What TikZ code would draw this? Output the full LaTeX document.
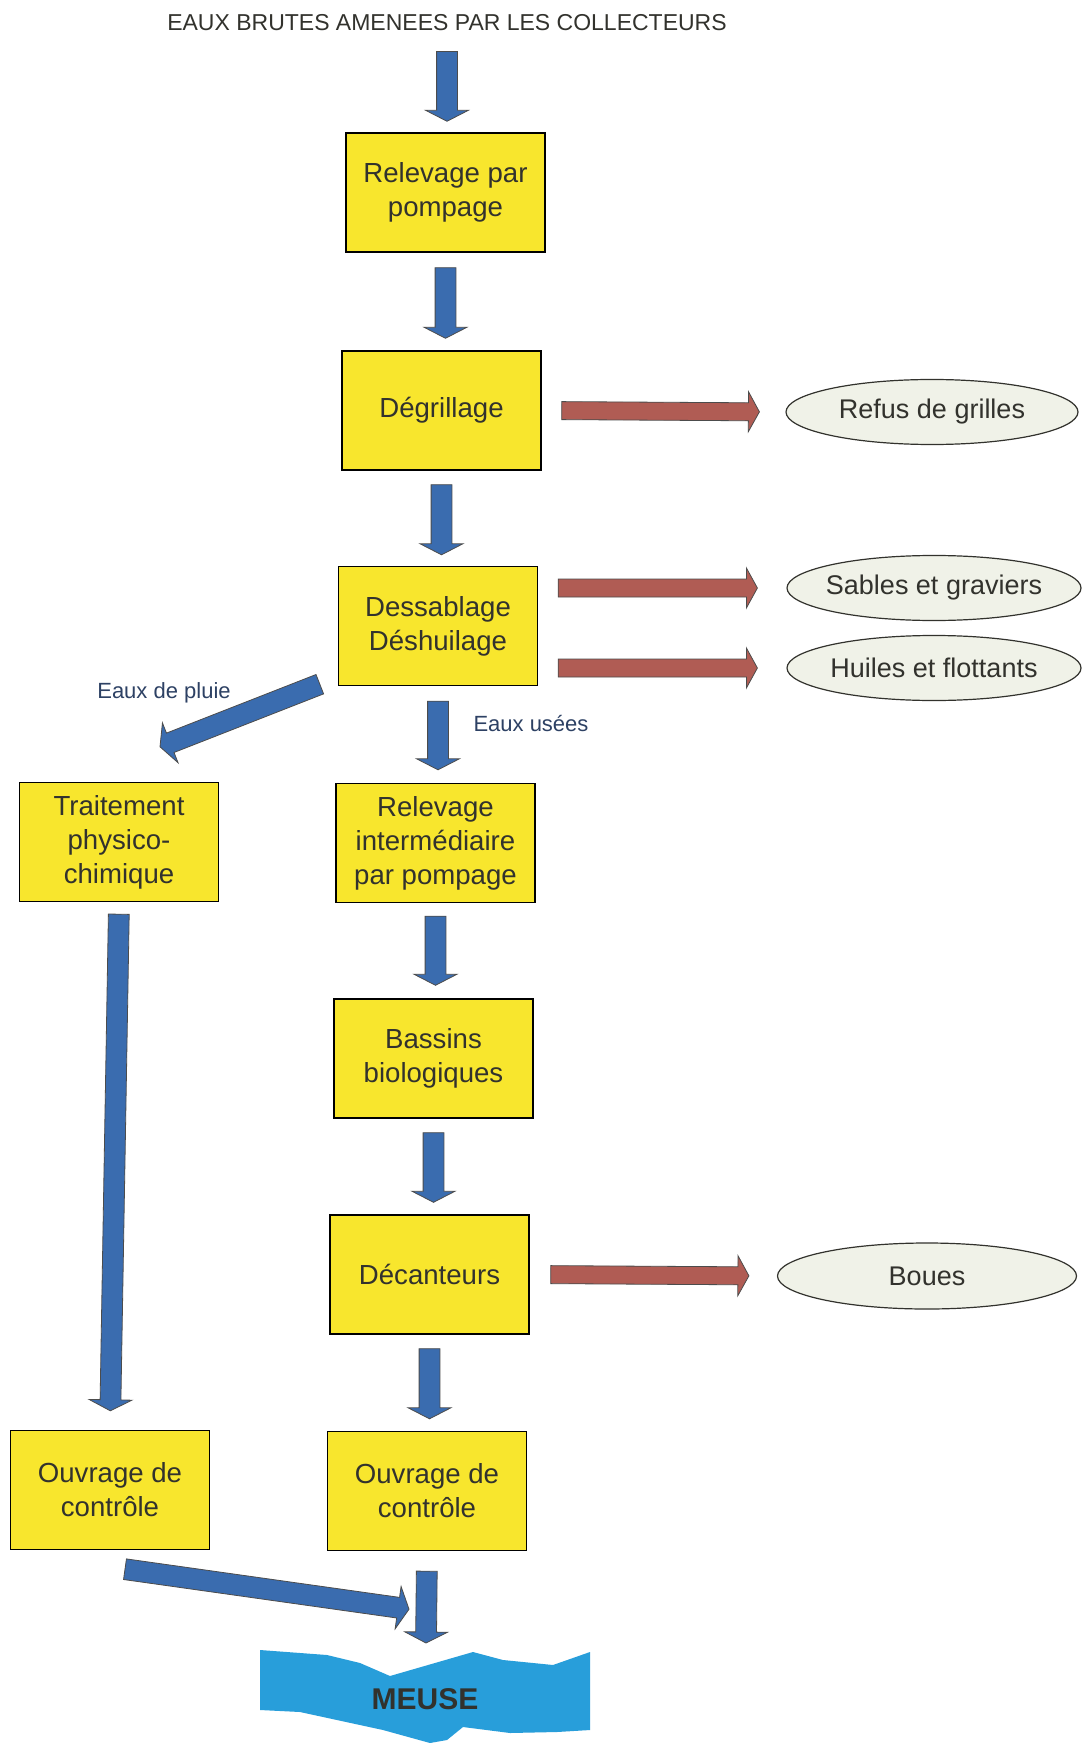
\documentclass[tikz,border=0pt]{standalone}
\usepackage{fontspec}
\setmainfont{Liberation Sans}
\usetikzlibrary{calc}
\usetikzlibrary{shapes.geometric}

\definecolor{boxyellow}{RGB}{248,230,45}
\definecolor{ellfill}{RGB}{240,242,232}
\definecolor{flowblue}{RGB}{58,108,175}
\definecolor{flowred}{RGB}{176,92,84}
\definecolor{riverblue}{RGB}{40,158,218}
\definecolor{labelblue}{RGB}{45,65,100}
\definecolor{inkgray}{RGB}{50,50,45}

\tikzset{
  stage/.style={draw=black,line width=0.7pt,fill=boxyellow,text=inkgray,align=center,
    minimum width=99.5pt,minimum height=59.5pt,inner sep=0pt,
    font=\fontsize{13.8}{17}\selectfont},
  waste/.style={ellipse,draw=inkgray,line width=0.6pt,fill=ellfill,text=inkgray,
    minimum width=146pt,minimum height=32.5pt,inner xsep=-4pt,inner ysep=0pt,
    font=\fontsize{13.5}{16}\selectfont},
  note/.style={text=labelblue,font=\fontsize{11}{13}\selectfont},
  blueflow/.style={fill=flowblue,draw=black!70,line width=0.4pt,
    /utils/exec={\def\shafthw{5.2pt}\def\headhw{10.7pt}}},
  redflow/.style={fill=flowred,draw=black!70,line width=0.4pt,
    /utils/exec={\def\shafthw{4.5pt}\def\headhw{10pt}}}
}

% block arrow: [style]{from}{to}{gap at start}{gap at end}
\newcommand{\flowarrow}[5][blueflow]{%
  \coordinate (fa-s) at ($(#2)!#4!(#3)$);
  \coordinate (fa-e) at ($(#3)!#5!(#2)$);
  \coordinate (fa-n) at ($(fa-e)!5.5pt!(fa-s)$);
  \filldraw[#1] ($(fa-s)!\shafthw!90:(fa-e)$) -- ($(fa-n)!\shafthw!90:(fa-e)$)
    -- ($(fa-n)!\headhw!90:(fa-e)$) -- (fa-e) -- ($(fa-n)!\headhw!-90:(fa-e)$)
    -- ($(fa-n)!\shafthw!-90:(fa-e)$) -- ($(fa-s)!\shafthw!-90:(fa-e)$) -- cycle;
}

\begin{document}
\begin{tikzpicture}[x=0.5pt,y=-0.5pt]
            \useasboundingbox (0,0) rectangle (1082,1743);
            \fill[white] (0,0) rectangle (1082,1743);

            \node[inner sep=0pt,text=inkgray,font=\fontsize{11.5}{13}\selectfont] (title) at (447,23) {EAUX BRUTES AMENEES PAR LES COLLECTEURS};

            % main line
            \node[stage] (pompage) at (445.5,192.5) {Relevage par\\pompage};
            \node[stage] (degrill) at (441.5,410.5) {Dégrillage};
            \node[stage] (dessab) at (438,626) {Dessablage\\Déshuilage};
            \node[stage] (relevint) at (435.5,843) {Relevage\\intermédiaire\\par pompage};
            \node[stage] (bassins) at (433.5,1058.5) {Bassins\\biologiques};
            \node[stage] (decant) at (429.5,1274.5) {Décanteurs};
            \node[stage] (ouvrR) at (427,1491) {Ouvrage de\\contrôle};

            % rain water line
            \node[stage] (traitement) at (119,842) {Traitement\\physico-\\chimique};
            \node[stage] (ouvrL) at (110,1490) {Ouvrage de\\contrôle};

            % by-products
            \node[waste] (refus) at (932,412) {Refus de grilles};
            \node[waste,minimum width=147pt] (sables) at (934,588) {Sables et graviers};
            \node[waste,minimum width=147pt] (huiles) at (934,668) {Huiles et flottants};
            \node[waste,minimum width=149.5pt,minimum height=33pt] (boues) at (927,1276) {Boues};

            \node[note] (pluie) at (164,693) {Eaux de pluie};
            \node[note] (usees) at (531,724) {Eaux usées};

            % river
            \fill[riverblue] (260,1650) -- (327,1655) -- (360,1663) -- (390,1676) -- (473,1652)
              -- (503,1660) -- (553,1665) -- (590,1652) -- (590,1730) -- (557,1732)
              -- (510,1733) -- (463,1727) -- (447,1740) -- (430,1743) -- (383,1730)
              -- (300,1712) -- (260,1710) -- cycle;
            \node[text=inkgray,font=\fontsize{15}{17}\bfseries] (meuse) at (425,1699) {MEUSE};

            \coordinate (meuse-in) at (426,1643);
            \coordinate (dessab-r1) at (dessab.east |- sables.west);
            \coordinate (dessab-r2) at (dessab.east |- huiles.west);
            \coordinate (pluie-a) at ($(dessab.south west)+(-18,-2)$);
            \coordinate (pluie-b) at ($(traitement.north)+(41,-35)$);
            \coordinate (rejet-a) at ($(ouvrL.south)+(15,19)$);
            \coordinate (rejet-b) at ($(ouvrR.south)+(-18,58)$);

            % water flow
            \flowarrow{title.south}{pompage.north -| title.south}{10pt}{5.5pt}
            \flowarrow{pompage.south}{degrill.north -| pompage.south}{7.5pt}{6pt}
            \flowarrow{degrill.south}{dessab.north -| degrill.south}{7pt}{5.5pt}
            \flowarrow{dessab.south}{relevint.north -| dessab.south}{7.5pt}{6.5pt}
            \flowarrow{relevint.south}{bassins.north -| relevint.south}{6.5pt}{6.5pt}
            \flowarrow{bassins.south}{decant.north -| bassins.south}{7pt}{6pt}
            \flowarrow{decant.south}{ouvrR.north -| decant.south}{7pt}{6pt}
            \flowarrow{ouvrR.south}{meuse-in}{10pt}{0pt}
            \flowarrow{pluie-a}{pluie-b}{0pt}{0pt}
            \flowarrow{traitement.south}{ouvrL.north}{6pt}{9.5pt}
            \flowarrow{rejet-a}{rejet-b}{0pt}{0pt}

            % removed matter
            \flowarrow[redflow]{degrill.east}{refus.west}{10pt}{13pt}
            \flowarrow[redflow]{dessab-r1}{sables.west}{10pt}{14.5pt}
            \flowarrow[redflow]{dessab-r2}{huiles.west}{10pt}{14.5pt}
            \flowarrow[redflow]{decant.east}{boues.west}{10.5pt}{14pt}
        \end{tikzpicture}
\end{document}
